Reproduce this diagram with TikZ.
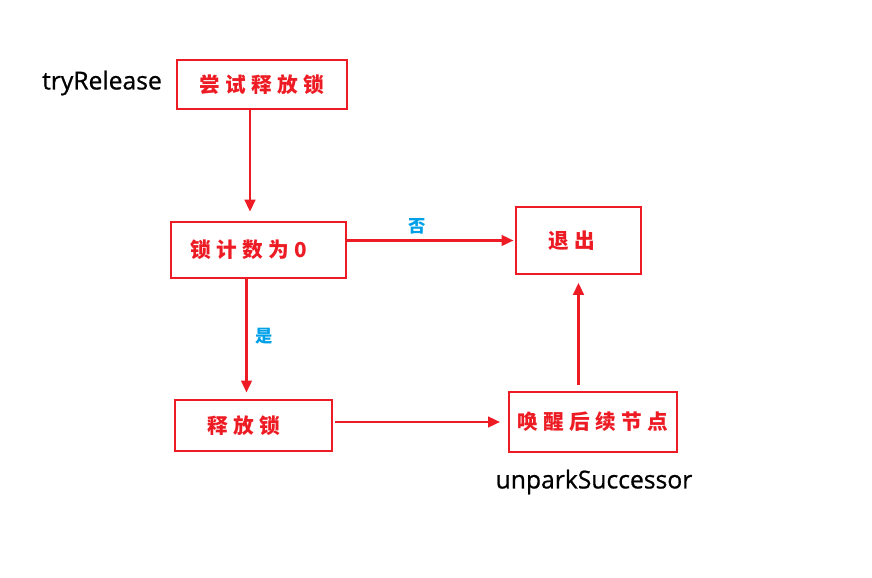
\documentclass[tikz,border=0pt]{standalone}
\usepackage{fontspec}
\usepackage{tikz}
\usetikzlibrary{arrows.meta}
\setmainfont{Open Sans}[FakeBold=0.8]
\newfontfamily\cjk[LetterSpace=26]{Noto Sans CJK SC}
\newfontfamily\cjklabel{Noto Sans CJK SC}
\definecolor{flowred}{RGB}{237,28,36}
\definecolor{labelblue}{RGB}{0,160,233}

\begin{document}
\begin{tikzpicture}[x=0.75pt, y=-0.75pt,
    stepbox/.style={draw=flowred, line width=1.5pt, text=flowred,
        font=\cjk\bfseries\fontsize{15.5}{18}\selectfont},
    flow/.style={draw=flowred, line width=1.8pt,
        -{Triangle[length=9pt, width=8pt]}},
    branch/.style={text=labelblue, font=\cjklabel\bfseries\fontsize{13}{15}\selectfont},
    fname/.style={text=black, font=\fontsize{18.5}{21}\selectfont}]
    \useasboundingbox (0,0) rectangle (872,578);

    % --- 1. THE BOXES ---
    % pixel centres and sizes
    \node[stepbox, minimum width=127.5pt, minimum height=37pt] (try)  at (262,84.5)  {尝试释放锁};
    \node[stepbox, minimum width=131pt, minimum height=42pt]   (count) at (258.5,250) {\hspace*{-14pt}锁计数为0};
    \node[stepbox, minimum width=94pt, minimum height=50pt]    (quit) at (578.5,240.5) {\hspace*{-10pt}退出};
    \node[stepbox, minimum width=118pt, minimum height=38pt]   (free) at (253.5,425.5) {\hspace*{-14pt}释放锁};
    \node[stepbox, minimum width=126pt, minimum height=45pt]   (wake) at (593,422)   {唤醒后续节点};

    % method names beside the boxes
    \node[fname] (tryname)  at (102,83)  {tryRelease};
    \node[fname] (wakename) at (594,482) {unparkSuccessor};

    % --- 2. THE ARROWS ---
    \draw[flow, shorten >=7pt] ([xshift=-9pt]try.south) -- ([xshift=-9pt]try.south |- count.north);
    \draw[flow, shorten >=1pt] (count.east |- quit.west) -- (quit.west);
    \draw[flow, shorten >=5pt] ([xshift=-9pt]count.south) -- ([xshift=-9pt]count.south |- free.north);
    \draw[flow, shorten <=1pt, shorten >=6pt] (free.east |- wake.west) -- (wake.west);
    \draw[flow, shorten <=4.5pt, shorten >=6pt] (wake.north -| quit.south) -- (quit.south);

    % yes / no on the branches
    \node[branch] (no)  at (417,226) {否};
    \node[branch] (yes) at (264,336) {是};

\end{tikzpicture}
\end{document}
